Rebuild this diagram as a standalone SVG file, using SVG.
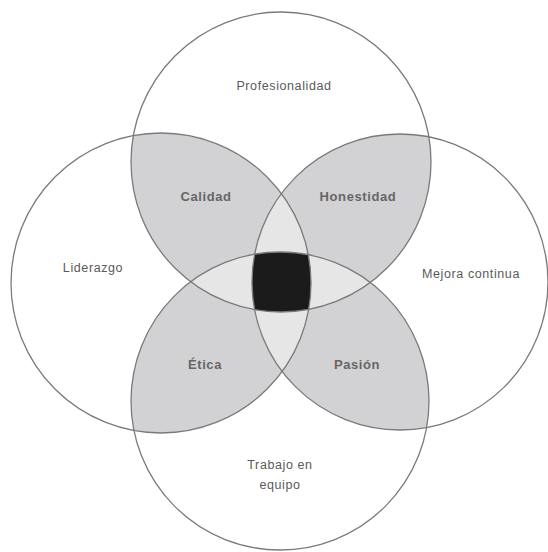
<svg xmlns="http://www.w3.org/2000/svg" width="548" height="552" viewBox="0 0 548 552">
  <style>
    .ring { fill: none; stroke: #7a7a7a; stroke-width: 1.3; }
    .two { fill: #d2d1d3; }
    .three { fill: #e6e6e7; }
    .four { fill: #1c1b1c; }
    .lbl { font-family: "Liberation Sans", Arial, sans-serif; font-size: 12.5px; fill: #5a5a5a; text-anchor: middle; letter-spacing: 0.6px; }
    .lblb { font-family: "Liberation Sans", Arial, sans-serif; font-size: 13px; font-weight: bold; fill: #666; text-anchor: middle; letter-spacing: 0.6px; }
  </style>
  <defs>
    <clipPath id="cTop"><circle cx="281" cy="162" r="150"/></clipPath>
    <clipPath id="cBottom"><circle cx="280" cy="401" r="149"/></clipPath>
    <clipPath id="cLeft"><circle cx="161" cy="283" r="150"/></clipPath>
    <clipPath id="cRight"><circle cx="400" cy="282" r="148"/></clipPath>
  </defs>
  <rect width="548" height="552" fill="#ffffff"/>

  <g id="fills">
    <!-- two-circle overlaps -->
    <g clip-path="url(#cTop)"><circle class="two" cx="161" cy="283" r="150"/></g>
    <g clip-path="url(#cTop)"><circle class="two" cx="400" cy="282" r="148"/></g>
    <g clip-path="url(#cBottom)"><circle class="two" cx="161" cy="283" r="150"/></g>
    <g clip-path="url(#cBottom)"><circle class="two" cx="400" cy="282" r="148"/></g>
    <!-- three-circle overlaps -->
    <g clip-path="url(#cTop)"><g clip-path="url(#cLeft)"><circle class="three" cx="400" cy="282" r="148"/></g></g>
    <g clip-path="url(#cBottom)"><g clip-path="url(#cLeft)"><circle class="three" cx="400" cy="282" r="148"/></g></g>
    <g clip-path="url(#cTop)"><g clip-path="url(#cBottom)"><circle class="three" cx="161" cy="283" r="150"/></g></g>
    <g clip-path="url(#cTop)"><g clip-path="url(#cBottom)"><circle class="three" cx="400" cy="282" r="148"/></g></g>
    <!-- four-circle overlap -->
    <g clip-path="url(#cTop)"><g clip-path="url(#cBottom)"><g clip-path="url(#cLeft)"><circle class="four" cx="400" cy="282" r="148"/></g></g></g>
  </g>

  <g id="top"><circle class="ring" cx="281" cy="162" r="150"/><text class="lbl" x="284" y="90">Profesionalidad</text></g>
  <g id="left"><circle class="ring" cx="161" cy="283" r="150"/><text class="lbl" x="93" y="272">Liderazgo</text></g>
  <g id="right"><circle class="ring" cx="400" cy="282" r="148"/><text class="lbl" x="471" y="278">Mejora continua</text></g>
  <g id="bottom"><circle class="ring" cx="280" cy="401" r="149"/><text class="lbl" x="280" y="469">Trabajo en</text><text class="lbl" x="280" y="489">equipo</text></g>

  <g id="calidad"><text class="lblb" x="206" y="201">Calidad</text></g>
  <g id="honestidad"><text class="lblb" x="358" y="201">Honestidad</text></g>
  <g id="etica"><text class="lblb" x="205" y="369">Ética</text></g>
  <g id="pasion"><text class="lblb" x="357" y="369">Pasión</text></g>
</svg>
